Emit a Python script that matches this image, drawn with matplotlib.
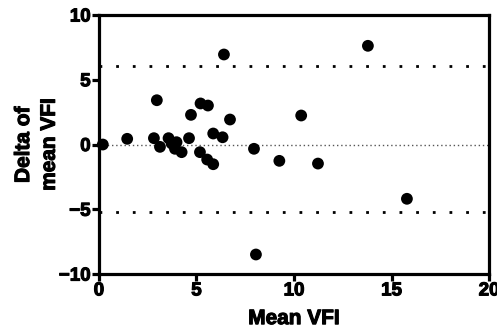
import matplotlib.pyplot as plt
import matplotlib.patheffects as pe

# Bland-Altman: mean VFI vs delta
mean_vfi = [0.2, 1.45, 2.97, 2.82, 3.13, 3.57, 3.73, 3.98, 3.9, 4.24, 4.62, 4.72,
            5.21, 5.59, 5.18, 5.55, 5.86, 5.86, 6.34, 6.41, 6.72,
            7.95, 9.25, 10.37, 11.23, 13.79, 15.79, 8.05]
delta_vfi = [0.0, 0.44, 3.42, 0.49, -0.18, 0.49, 0.08, 0.18, -0.33, -0.59, 0.49, 2.29,
             3.17, 3.01, -0.59, -1.16, -1.52, 0.85, 0.56, 6.95, 1.93,
             -0.33, -1.26, 2.24, -1.47, 7.62, -4.19, -8.49]
bias = 0.0
upper_loa = 6.05
lower_loa = -5.2

plt.rcParams['font.family'] = ['Liberation Sans', 'DejaVu Sans']
fig = plt.figure(figsize=(4.97, 3.33), dpi=100)
ax = fig.add_axes([0.199, 0.177, 0.785, 0.778])

ax.axhline(upper_loa, color='black', linestyle=(0, (1, 5)), linewidth=2.0, zorder=1)
ax.axhline(lower_loa, color='black', linestyle=(0, (1, 5)), linewidth=2.0, zorder=1)
ax.axhline(bias, color='#555555', linestyle=(0, (1, 2)), linewidth=1.0, zorder=1)

ax.scatter(mean_vfi, delta_vfi, s=72, c='black', edgecolors='none', zorder=3, clip_on=False)

ax.set_xlim(0, 20)
ax.set_ylim(-10, 10)
ax.set_xticks([0, 5, 10, 15, 20])
ax.set_yticks([-10, -5, 0, 5, 10])

# heavier look for text
heavy = [pe.withStroke(linewidth=0.8, foreground='black')]

for sp in ax.spines.values():
    sp.set_linewidth(2.3)
ax.tick_params(width=2.3, length=5, labelsize=13.5, pad=1)
for lab in ax.get_xticklabels() + ax.get_yticklabels():
    lab.set_fontweight('bold')
    lab.set_path_effects(heavy)

ax.set_xlabel('Mean VFI', fontsize=15, fontweight='bold', labelpad=7, path_effects=heavy)
ax.set_ylabel('Delta of\nmean VFI', fontsize=15, fontweight='bold', labelpad=0,
              linespacing=1.45, path_effects=heavy)

fig.savefig('out.png', dpi=100)
